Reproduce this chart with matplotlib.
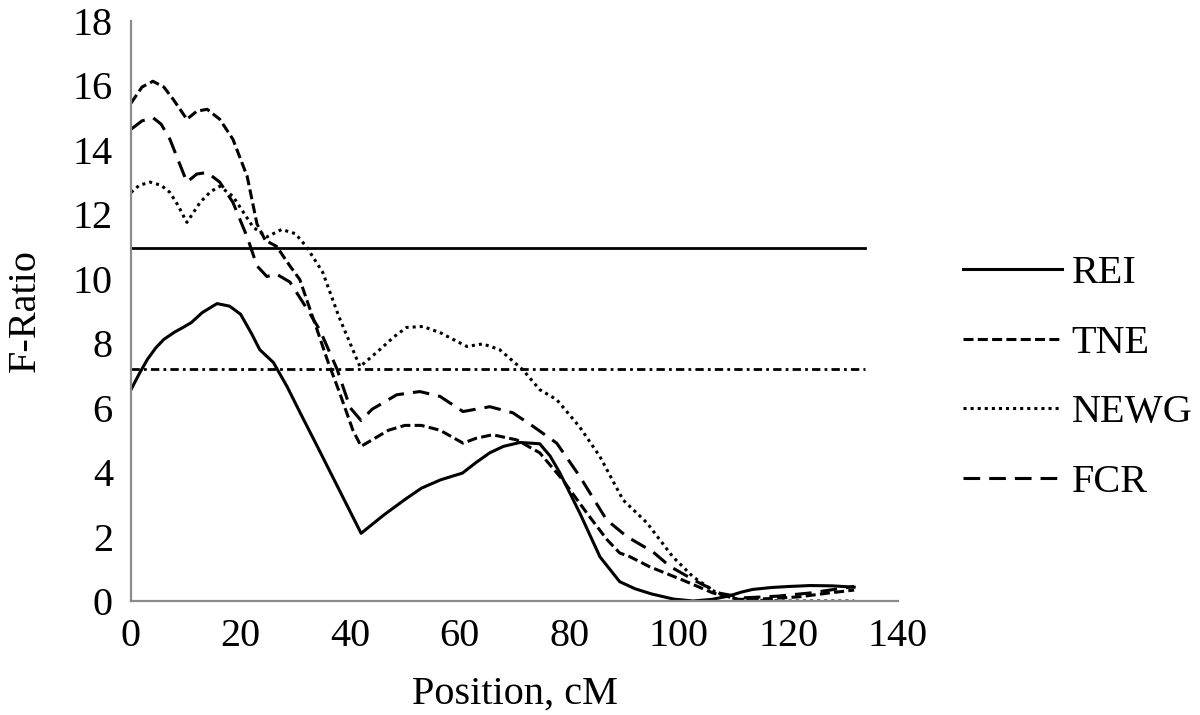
import matplotlib
matplotlib.use('Agg')
import matplotlib.pyplot as plt

# Data (position in cM, F-ratio)
rei_x = [0, 1.5, 3, 4.5, 6, 8, 9.5, 11, 13, 15.7, 18, 20, 22, 23.5, 26, 28.5, 31, 34, 38, 42,
         46, 50, 53, 56.5, 60.5, 63, 65.5, 68, 71, 74.6, 76.5, 78.3, 82, 85.6, 89.2, 92, 95,
         99, 102.6, 106, 109, 111.5, 113.5, 117, 120, 124, 128, 132]
rei_y = [6.56, 7.05, 7.5, 7.85, 8.12, 8.35, 8.49, 8.64, 8.95, 9.23, 9.15, 8.9, 8.3, 7.8, 7.4,
         6.65, 5.8, 4.8, 3.45, 2.1, 2.65, 3.15, 3.5, 3.76, 3.97, 4.3, 4.6, 4.8, 4.92, 4.88, 4.5,
         3.97, 2.7, 1.37, 0.6, 0.38, 0.22, 0.06, 0.0, 0.05, 0.15, 0.28, 0.36, 0.42, 0.45, 0.48,
         0.47, 0.43]

tne_x = [0, 2, 4, 6, 7.7, 10.2, 12, 13.9, 16.2, 18.6, 21.2, 23, 24.5, 26.6, 29, 30.8, 34, 36,
         38, 40.5, 42, 44, 47, 50, 53, 56.4, 60.6, 63, 66, 70.4, 74.6, 78.8, 83.2, 86.9, 89.2,
         91, 94.7, 100.7, 106.2, 111, 116, 122, 127, 132]
tne_y = [15.45, 15.95, 16.13, 15.95, 15.57, 14.95, 15.2, 15.26, 14.95, 14.33, 13.18, 11.7,
         11.2, 11.0, 10.4, 9.98, 8.4, 7.4, 6.5, 5.3, 4.8, 5.0, 5.3, 5.45, 5.45, 5.3, 4.9, 5.05,
         5.16, 5.0, 4.6, 3.76, 2.73, 1.9, 1.49, 1.38, 1.06, 0.65, 0.25, 0.05, 0.07, 0.13, 0.24,
         0.34]

newg_x = [0, 1.5, 3.5, 5.5, 7.1, 8.5, 10.2, 12.6, 14.5, 16.2, 18.6, 22.3, 24.8, 27.5, 30, 32,
          35, 38, 41.8, 45.4, 48, 50.3, 53.3, 56.4, 61.3, 64.2, 67.3, 71.5, 74.6, 77.7, 81.9,
          85.6, 89.8, 94.2, 98.9, 102.6, 106.9, 111, 120, 132]
newg_y = [12.68, 12.9, 13.0, 12.9, 12.68, 12.3, 11.75, 12.37, 12.7, 12.87, 12.56, 11.6, 11.3,
          11.53, 11.4, 11.0, 10.2, 8.8, 7.27, 7.8, 8.2, 8.49, 8.52, 8.33, 7.9, 7.98, 7.8, 7.18,
          6.56, 6.25, 5.4, 4.48, 3.14, 2.42, 1.37, 0.75, 0.25, 0.03, 0.0, 0.0]

fcr_x = [0, 2, 4, 5.5, 7.1, 10.2, 12, 13.9, 16.2, 18.6, 21.2, 23, 24.8, 26.5, 29, 32, 34.5,
         37.6, 40, 42, 44, 48.5, 52.7, 56.4, 60.6, 65.5, 69.7, 73.4, 77.7, 81.9, 86.8, 90.5,
         95.3, 98.4, 103.3, 107.5, 112, 118, 124, 128, 132]
fcr_y = [14.64, 14.9, 15.0, 14.8, 14.33, 13.0, 13.25, 13.3, 13.0, 12.37, 11.3, 10.4, 10.07,
         10.15, 9.9, 9.1, 8.4, 7.2, 6.0, 5.6, 5.95, 6.4, 6.5, 6.35, 5.88, 6.03, 5.84, 5.42, 4.9,
         3.87, 2.52, 2.0, 1.52, 1.07, 0.6, 0.24, 0.1, 0.15, 0.25, 0.35, 0.45]

thresh_x = [0, 134]
thresh_1 = 10.95   # solid threshold
thresh_5 = 7.2     # dash-dot threshold

plt.rcParams['font.family'] = ['Liberation Serif', 'DejaVu Serif']
plt.rcParams['font.size'] = 29
plt.rcParams['lines.scale_dashes'] = False

fig = plt.figure(figsize=(12, 7.15), dpi=100)
ax = fig.add_axes([131 / 1200, 1 - 601 / 715, (898 - 131) / 1200, (601 - 21) / 715])

lw = 2.2
ax.plot(rei_x, rei_y, color='black', lw=lw, label='REI')
ax.plot(tne_x, tne_y, color='black', lw=lw, dashes=(7.2, 3.1), label='TNE')
ax.plot(newg_x, newg_y, color='black', lw=lw, dashes=(2.2, 2.9), label='NEWG')
ax.plot(fcr_x, fcr_y, color='black', lw=lw, dashes=(12, 6.5), label='FCR')

ax.plot(thresh_x, [thresh_1, thresh_1], color='black', lw=2.0)
ax.plot(thresh_x, [thresh_5, thresh_5], color='black', lw=2.0, dashes=(6, 3, 2, 3))

ax.set_xlim(0, 140)
ax.set_ylim(0, 18)
ax.set_xticks(range(0, 141, 20))
ax.set_yticks(range(0, 19, 2))
ax.tick_params(length=0)
ax.tick_params(axis='x', pad=12)
ax.tick_params(axis='y', pad=13)

for s in ['top', 'right']:
    ax.spines[s].set_visible(False)
for s in ['left', 'bottom']:
    ax.spines[s].set_color('#8c8c8c')
    ax.spines[s].set_linewidth(1.6)

ax.set_xlabel('Position, cM', labelpad=15)
ax.set_ylabel('F-Ratio', labelpad=21)

fig.legend(loc='center left', bbox_to_anchor=(963 / 1200, 1 - 378 / 715), frameon=False,
           borderpad=0, borderaxespad=0, handlelength=2.45, handletextpad=0.25,
           labelspacing=0.8)

plt.savefig('out.png', dpi=100)
